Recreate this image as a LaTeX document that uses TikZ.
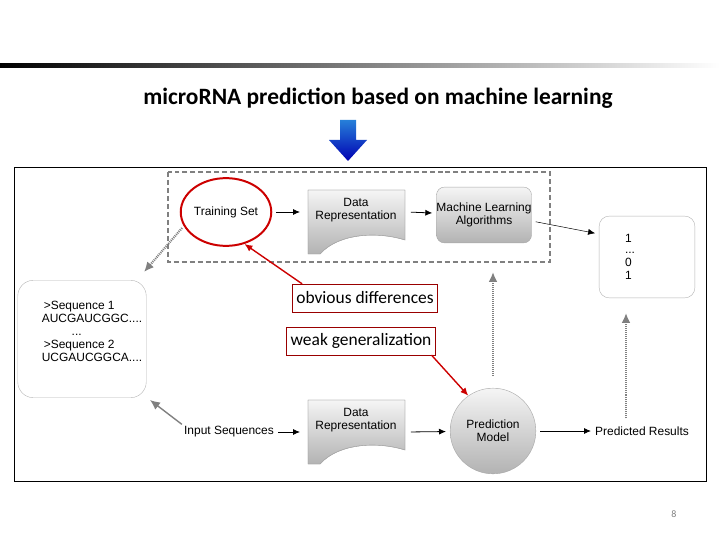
\documentclass[tikz,border=0pt]{standalone}
\usepackage{fontspec}
\setmainfont{Liberation Sans}
\newfontfamily\titlefont{Carlito}
\usetikzlibrary{arrows.meta,shapes.geometric,shadows}
\begin{document}
\begin{tikzpicture}[x=1bp,y=-1bp,
  lbl/.style={font=\fontsize{12}{13}\selectfont,align=center,inner sep=0},
  gfill/.style={top color=gray!8,bottom color=gray!60,draw=gray!70},
  blk/.style={-{Latex[length=7,width=6]},black,line width=0.8,shorten >=4,shorten <=4},
  gry/.style={-{Latex[length=10,width=9]},gray,line width=1.4},
  dot/.style={-{Latex[length=10,width=9]},gray,line width=2.2,dash pattern=on 1pt off 1pt},
  red/.style={-{Latex[length=8,width=7]},red!80!black,line width=1.4},
  rbox/.style={draw=red!60!black,fill=white,font=\titlefont\fontsize{17.5}{20}\selectfont,inner sep=4pt,minimum height=28}]
\useasboundingbox (0,0) rectangle (720,540);
\shade[left color=black,right color=white] (0,64) rectangle (720,68);
\node (title) at (378,98) {\titlefont\bfseries\fontsize{23.5}{26}\selectfont microRNA prediction based on machine learning};
\shade[top color=blue!50!cyan!70!gray,bottom color=blue!70!black] (340,120) -- (356,120) -- (356,140) -- (367,140) -- (348,161) -- (329,140) -- (340,140) -- cycle;
\draw[line width=0.8] (14,167) rectangle (706,481);
\draw[gray,line width=2,dash pattern=on 5pt off 3pt] (168,172) rectangle (550,262);
% nodes
\node[draw=red!80!black,line width=2,ellipse,minimum width=84,minimum height=68,lbl] (ts) at (226,212) {Training Set};
\shade[gfill] (308,190) -- (405,190) -- (405,240) .. controls (380,232) and (340,232) .. (320,254) -- (308,254) -- cycle;
\draw[gray!70] (308,190) -- (405,190) -- (405,240) .. controls (380,232) and (340,232) .. (320,254) -- (308,254) -- cycle;
\node[lbl] (dr1) at (356,210) {Data\\Representation};
\node[draw=gray!70,gfill,rounded corners=8,minimum width=94,minimum height=56,lbl] (ml) at (484,215) {Machine Learning\\Algorithms};
\node[draw=gray!60,rounded corners=10,minimum width=96,minimum height=82] (out) at (647,257) {};
\node[lbl,align=left] (outt) at (630,257) {1\\[-2pt]...\\0\\1};
\node[draw=gray!60,rounded corners=16,minimum width=129,minimum height=118] (seq) at (82,339) {};
\node[lbl,align=left] (seqt) at (92,331) {\hspace*{2pt}>Sequence 1\\AUCGAUCGGC....\\\hspace*{30pt}...\\\hspace*{2pt}>Sequence 2\\UCGAUCGGCA....};
\node[rbox] (obv) at (365,298) {obvious differences};
\node[rbox] (weak) at (361,341) {weak generalization};
\node[lbl] (inp) at (229,432) {Input Sequences};
\shade[gfill] (308,400) -- (405,400) -- (405,450) .. controls (380,442) and (340,442) .. (320,464) -- (308,464) -- cycle;
\draw[gray!70] (308,400) -- (405,400) -- (405,450) .. controls (380,442) and (340,442) .. (320,464) -- (308,464) -- cycle;
\node[lbl] (dr2) at (356,420) {Data\\Representation};
\coordinate (dr1w) at (304,212); \coordinate (dr1e) at (407,212);
\coordinate (dr2w) at (304,432); \coordinate (dr2e) at (407,432);
\node[circle,gfill,minimum size=86,lbl] (pm) at (493,431) {Prediction\\Model};
\node[lbl] (pr) at (642,431) {Predicted Results};
\coordinate (boxc) at (182,228);
\node[text=gray,font=\titlefont\fontsize{10}{12}\selectfont] (pg) at (674,514) {8};
% connectors
\draw[blk] (ts) -- (dr1w);
\draw[blk] (dr1e) -- (ml);
\draw[blk,line width=0.5] (ml.east) ++(0,6) -- (out.west |- 0,234);
\draw[dot] (boxc) -- (144,272);
\draw[gry] (inp.north west) ++(-2,-2) -- (150,400);
\draw[blk] (inp) -- (dr2w);
\draw[blk] (dr2e) -- (pm);
\draw[blk] (pm) -- (pr);
\draw[dot] (pm.north) ++(0,-12) -- (493,272);
\draw[dot] (pr.north -| 626,0) ++(0,-8) -- (626,313);
\draw[red] (obv.north west) ++(10,0) -- (ts.-60);
\draw[red] (weak.south east) ++(-4,0) -- (pm.125);
\end{tikzpicture}
\end{document}
